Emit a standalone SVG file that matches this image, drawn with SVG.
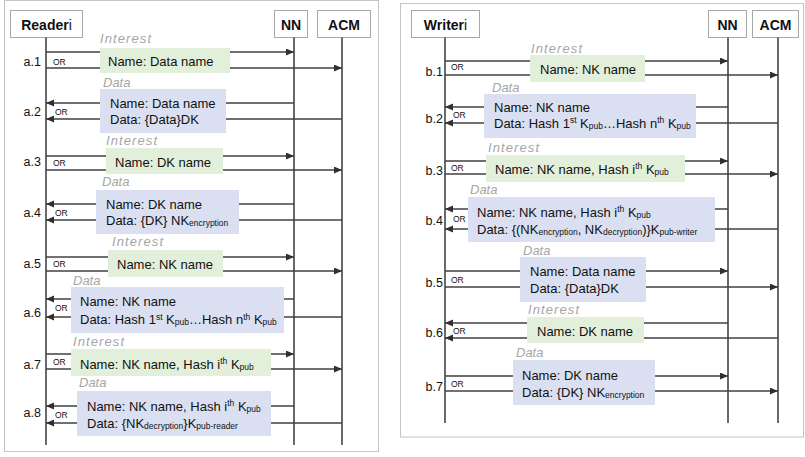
<svg xmlns="http://www.w3.org/2000/svg" width="805" height="457" viewBox="0 0 805 457">
  <style>
    text { font-family: "Liberation Sans", Arial, sans-serif; fill: #111; }
    .panel { fill: #fff; stroke: #c4c4c4; stroke-width: 1; }
    .actor { fill: #fff; stroke: #a8a8a8; stroke-width: 1; }
    .actor-name { font-size: 14px; font-weight: bold; text-anchor: middle; }
    .idx { font-weight: normal; }
    .life { stroke: #1a1a1a; stroke-width: 1.3; fill: none; }
    .msg { stroke: #404040; stroke-width: 1.6; fill: none; marker-end: url(#head); }
    .interest { fill: #e2efda; }
    .data { fill: #dae0f1; }
    .kind { font-size: 13px; font-style: italic; fill: #a6a6a6; }
    .kind-i { letter-spacing: 1.1px; }
    .body { font-size: 13px; }
    .step { font-size: 12.5px; text-anchor: end; }
    .or { font-size: 8.5px; }
    .sm { font-size: 8.5px; }
  </style>
  <defs>
    <marker id="head" markerUnits="userSpaceOnUse" markerWidth="9" markerHeight="8" refX="8" refY="3.5" orient="auto">
      <path d="M0,0 L8,3.5 L0,7 z" fill="#303030"/>
    </marker>
  </defs>

  <!-- panel frames -->
  <rect class="panel" x="4.5" y="0.5" width="374" height="451"/>
  <rect class="panel" x="400.5" y="3.5" width="403" height="433.5"/>

  <!-- left panel actors -->
  <g id="reader">
    <rect class="actor" x="10.5" y="10.5" width="72" height="27"/>
    <text class="actor-name" x="46.5" y="29.5">Reader<tspan class="idx">i</tspan></text>
  </g>
  <g id="nn-left">
    <rect class="actor" x="274.5" y="10.5" width="33" height="27"/>
    <text class="actor-name" x="291" y="29.5">NN</text>
  </g>
  <g id="acm-left">
    <rect class="actor" x="317.5" y="10.5" width="53" height="27"/>
    <text class="actor-name" x="344" y="29.5">ACM</text>
  </g>

  <!-- right panel actors -->
  <g id="writer">
    <rect class="actor" x="411.5" y="10.5" width="68" height="27"/>
    <text class="actor-name" x="445.5" y="29.5">Writer<tspan class="idx">i</tspan></text>
  </g>
  <g id="nn-right">
    <rect class="actor" x="708.5" y="10.5" width="38" height="27"/>
    <text class="actor-name" x="727.5" y="29.5">NN</text>
  </g>
  <g id="acm-right">
    <rect class="actor" x="752.5" y="10.5" width="46" height="27"/>
    <text class="actor-name" x="775.5" y="29.5">ACM</text>
  </g>

  <!-- lifelines and message arrows -->
  <g id="connectors">
    <path class="life" d="M46,37.5 V445 M294,37.5 V445 M342,37.5 V445"/>
    <path class="life" d="M445,37.5 V423 M728,37.5 V423 M778,37.5 V423"/>

    <path class="msg" d="M46,52 H294"/>
    <path class="msg" d="M46,68 H342"/>
    <path class="msg" d="M294,103 H46"/>
    <path class="msg" d="M342,119 H46"/>
    <path class="msg" d="M46,156 H294"/>
    <path class="msg" d="M46,170 H342"/>
    <path class="msg" d="M294,204 H46"/>
    <path class="msg" d="M342,220 H46"/>
    <path class="msg" d="M46,257 H294"/>
    <path class="msg" d="M46,271 H342"/>
    <path class="msg" d="M294,299 H46"/>
    <path class="msg" d="M342,317 H46"/>
    <path class="msg" d="M46,354 H294"/>
    <path class="msg" d="M46,369 H342"/>
    <path class="msg" d="M294,406 H46"/>
    <path class="msg" d="M342,423 H46"/>

    <path class="msg" d="M445,61 H728"/>
    <path class="msg" d="M445,75 H778"/>
    <path class="msg" d="M728,107 H445"/>
    <path class="msg" d="M778,123 H445"/>
    <path class="msg" d="M445,161 H728"/>
    <path class="msg" d="M445,174 H778"/>
    <path class="msg" d="M728,209 H445"/>
    <path class="msg" d="M778,229 H445"/>
    <path class="msg" d="M445,271 H728"/>
    <path class="msg" d="M445,287 H778"/>
    <path class="msg" d="M728,323 H445"/>
    <path class="msg" d="M778,338 H445"/>
    <path class="msg" d="M445,376 H728"/>
    <path class="msg" d="M445,391 H778"/>
  </g>

  <!-- reader steps -->
  <g id="a1">
    <text class="step" x="41" y="66">a.1</text>
    <text class="or" x="53" y="65">OR</text>
    <text class="kind kind-i" x="100" y="43">Interest</text>
    <rect class="interest" x="100" y="48" width="130" height="25"/>
    <text class="body" x="108" y="66">Name: Data name</text>
  </g>
  <g id="a2">
    <text class="step" x="41" y="116">a.2</text>
    <text class="or" x="55" y="115">OR</text>
    <text class="kind" x="103" y="87">Data</text>
    <rect class="data" x="100" y="89" width="126" height="44"/>
    <text class="body" x="110" y="107.5">Name: Data name</text>
    <text class="body" x="110" y="123.5">Data: {Data}DK</text>
  </g>
  <g id="a3">
    <text class="step" x="41" y="166">a.3</text>
    <text class="or" x="53" y="166">OR</text>
    <text class="kind kind-i" x="106" y="145">Interest</text>
    <rect class="interest" x="106" y="148" width="117" height="26"/>
    <text class="body" x="115" y="166.5">Name: DK name</text>
  </g>
  <g id="a4">
    <text class="step" x="41" y="216.5">a.4</text>
    <text class="or" x="55" y="216">OR</text>
    <text class="kind" x="102" y="186">Data</text>
    <rect class="data" x="96" y="190" width="143" height="44"/>
    <text class="body" x="106" y="208.5">Name: DK name</text>
    <text class="body" x="106" y="224.5">Data: {DK} NK<tspan class="sm" dy="1">encryption</tspan></text>
  </g>
  <g id="a5">
    <text class="step" x="41" y="267.5">a.5</text>
    <text class="or" x="53" y="267">OR</text>
    <text class="kind kind-i" x="112" y="246">Interest</text>
    <rect class="interest" x="108" y="250" width="115" height="27"/>
    <text class="body" x="117" y="268.5">Name: NK name</text>
  </g>
  <g id="a6">
    <text class="step" x="41" y="316.5">a.6</text>
    <text class="or" x="55" y="311">OR</text>
    <text class="kind" x="73" y="285">Data</text>
    <rect class="data" x="71" y="287" width="213" height="46"/>
    <text class="body" x="80" y="306">Name: NK name</text>
    <text class="body" x="80" y="324">Data: Hash 1<tspan class="sm" dy="-4.5">st</tspan><tspan dy="4.5"> K</tspan><tspan class="sm" dy="1">pub</tspan><tspan dy="-1">…Hash n</tspan><tspan class="sm" dy="-4.5">th</tspan><tspan dy="4.5"> K</tspan><tspan class="sm" dy="1">pub</tspan></text>
  </g>
  <g id="a7">
    <text class="step" x="41" y="368.5">a.7</text>
    <text class="or" x="53" y="365">OR</text>
    <text class="kind kind-i" x="73" y="346">Interest</text>
    <rect class="interest" x="71" y="349" width="200" height="27"/>
    <text class="body" x="80" y="368.5">Name: NK name, Hash i<tspan class="sm" dy="-4.5">th</tspan><tspan dy="4.5"> K</tspan><tspan class="sm" dy="1">pub</tspan></text>
  </g>
  <g id="a8">
    <text class="step" x="41" y="416.5">a.8</text>
    <text class="or" x="55" y="418">OR</text>
    <text class="kind" x="79" y="387">Data</text>
    <rect class="data" x="77" y="391" width="194" height="45"/>
    <text class="body" x="87" y="410.5">Name: NK name, Hash i<tspan class="sm" dy="-4.5">th</tspan><tspan dy="4.5"> K</tspan><tspan class="sm" dy="1">pub</tspan></text>
    <text class="body" x="87" y="427.5">Data: {NK<tspan class="sm" dy="1">decryption</tspan><tspan dy="-1">}K</tspan><tspan class="sm" dy="1">pub-reader</tspan></text>
  </g>

  <!-- writer steps -->
  <g id="b1">
    <text class="step" x="443" y="75.5">b.1</text>
    <text class="or" x="451" y="70">OR</text>
    <text class="kind kind-i" x="531" y="53">Interest</text>
    <rect class="interest" x="530" y="55" width="115" height="27"/>
    <text class="body" x="540" y="73.5">Name: NK name</text>
  </g>
  <g id="b2">
    <text class="step" x="443" y="122.5">b.2</text>
    <text class="or" x="453" y="118">OR</text>
    <text class="kind" x="492" y="92">Data</text>
    <rect class="data" x="484" y="94" width="212" height="44"/>
    <text class="body" x="494" y="111.5">Name: NK name</text>
    <text class="body" x="494" y="127.5">Data: Hash 1<tspan class="sm" dy="-4.5">st</tspan><tspan dy="4.5"> K</tspan><tspan class="sm" dy="1">pub</tspan><tspan dy="-1">…Hash n</tspan><tspan class="sm" dy="-4.5">th</tspan><tspan dy="4.5"> K</tspan><tspan class="sm" dy="1">pub</tspan></text>
  </g>
  <g id="b3">
    <text class="step" x="443" y="174.5">b.3</text>
    <text class="or" x="451" y="171">OR</text>
    <text class="kind kind-i" x="488" y="152">Interest</text>
    <rect class="interest" x="486" y="155" width="199" height="27"/>
    <text class="body" x="495" y="173.5">Name: NK name, Hash i<tspan class="sm" dy="-4.5">th</tspan><tspan dy="4.5"> K</tspan><tspan class="sm" dy="1">pub</tspan></text>
  </g>
  <g id="b4">
    <text class="step" x="443" y="224.5">b.4</text>
    <text class="or" x="453" y="222">OR</text>
    <text class="kind" x="470" y="194">Data</text>
    <rect class="data" x="468" y="197" width="247" height="45"/>
    <text class="body" x="477" y="216.5">Name: NK name, Hash i<tspan class="sm" dy="-4.5">th</tspan><tspan dy="4.5"> K</tspan><tspan class="sm" dy="1">pub</tspan></text>
    <text class="body" x="477" y="233.5">Data: {(NK<tspan class="sm" dy="1">encryption</tspan><tspan dy="-1">, NK</tspan><tspan class="sm" dy="1">decryption</tspan><tspan dy="-1">)}K</tspan><tspan class="sm" dy="1">pub-writer</tspan></text>
  </g>
  <g id="b5">
    <text class="step" x="443" y="286.5">b.5</text>
    <text class="or" x="451" y="283">OR</text>
    <text class="kind" x="523" y="255">Data</text>
    <rect class="data" x="520" y="257" width="126" height="45"/>
    <text class="body" x="530" y="275.5">Name: Data name</text>
    <text class="body" x="530" y="292.5">Data: {Data}DK</text>
  </g>
  <g id="b6">
    <text class="step" x="443" y="336.5">b.6</text>
    <text class="or" x="453" y="334">OR</text>
    <text class="kind kind-i" x="528" y="314">Interest</text>
    <rect class="interest" x="527" y="317" width="117" height="26"/>
    <text class="body" x="537" y="335.5">Name: DK name</text>
  </g>
  <g id="b7">
    <text class="step" x="443" y="390.5">b.7</text>
    <text class="or" x="451" y="387">OR</text>
    <text class="kind" x="516" y="357">Data</text>
    <rect class="data" x="513" y="360" width="142" height="45"/>
    <text class="body" x="522" y="379.5">Name: DK name</text>
    <text class="body" x="522" y="396.5">Data: {DK} NK<tspan class="sm" dy="1">encryption</tspan></text>
  </g>
</svg>
